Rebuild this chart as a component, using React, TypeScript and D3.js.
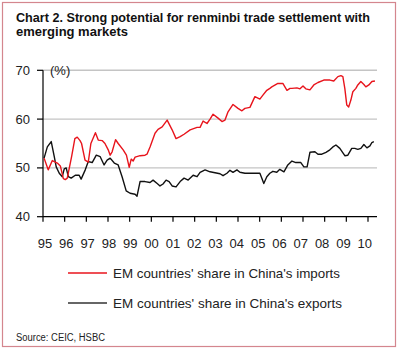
import * as d3 from "d3";

// EM share series (decimal year, %)
const importsShare: [number, number][] = [
  [1995.05, 52.0], [1995.24, 49.6], [1995.43, 51.5], [1995.66, 51.0], [1995.8, 50.4],
  [1995.94, 47.8], [1996.03, 47.6], [1996.12, 47.9], [1996.32, 52.3], [1996.47, 56.0],
  [1996.58, 56.3], [1996.71, 55.6], [1996.78, 55.0], [1996.94, 51.6], [1997.09, 51.2],
  [1997.21, 55.0], [1997.42, 57.2], [1997.55, 55.7], [1997.73, 55.6], [1997.86, 55.0],
  [1998.01, 53.7], [1998.1, 52.6], [1998.19, 53.3], [1998.35, 55.8], [1998.47, 55.0],
  [1998.7, 53.7], [1998.85, 52.6], [1998.98, 50.1], [1999.07, 51.8], [1999.16, 51.4],
  [1999.25, 52.2], [1999.48, 52.5], [1999.71, 52.6], [1999.8, 52.8], [1999.94, 54.3],
  [2000.17, 57.1], [2000.31, 57.9], [2000.5, 58.4], [2000.73, 59.8], [2000.96, 57.8],
  [2001.14, 56.0], [2001.33, 56.4], [2001.51, 56.9], [2001.79, 57.8], [2002.11, 58.3],
  [2002.25, 58.3], [2002.39, 59.6], [2002.57, 59.1], [2002.71, 60.0], [2002.85, 61.0],
  [2003.08, 60.2], [2003.26, 59.5], [2003.4, 59.8], [2003.54, 61.5], [2003.77, 63.0],
  [2004.0, 62.2], [2004.18, 61.7], [2004.32, 62.2], [2004.55, 62.4], [2004.78, 64.6],
  [2005.01, 64.1], [2005.15, 64.9], [2005.33, 65.9], [2005.47, 66.3], [2005.56, 66.6],
  [2005.84, 67.3], [2006.07, 67.3], [2006.26, 65.9], [2006.4, 66.3], [2006.49, 66.3],
  [2006.72, 66.4], [2006.86, 66.2], [2007.0, 66.8], [2007.13, 66.2], [2007.32, 66.0],
  [2007.5, 67.0], [2007.69, 67.5], [2007.96, 68.0], [2008.24, 68.0], [2008.42, 67.8],
  [2008.61, 68.7], [2008.75, 68.9], [2008.84, 68.7], [2008.93, 66.3], [2009.02, 62.9],
  [2009.11, 62.5], [2009.21, 63.9], [2009.3, 65.6], [2009.44, 66.3], [2009.53, 67.0],
  [2009.67, 67.7], [2009.81, 67.1], [2009.9, 66.6], [2010.04, 67.0], [2010.18, 67.7],
  [2010.32, 67.8],
];

const exportsShare: [number, number][] = [
  [1995.05, 52.0], [1995.2, 54.3], [1995.38, 55.4], [1995.52, 52.3], [1995.61, 50.2],
  [1995.75, 48.9], [1995.89, 48.2], [1995.98, 49.8], [1996.07, 50.0], [1996.17, 48.2],
  [1996.3, 47.9], [1996.49, 48.5], [1996.67, 48.5], [1996.76, 47.7], [1996.95, 49.6],
  [1997.09, 51.3], [1997.27, 51.1], [1997.46, 52.6], [1997.64, 52.3], [1997.82, 50.6],
  [1997.96, 51.6], [1998.1, 52.0], [1998.29, 51.0], [1998.47, 50.6], [1998.65, 48.2],
  [1998.84, 45.3], [1999.02, 44.8], [1999.25, 44.6], [1999.34, 44.2], [1999.48, 47.2],
  [1999.71, 47.2], [1999.94, 47.0], [2000.08, 47.5], [2000.27, 46.8], [2000.4, 46.3],
  [2000.54, 46.7], [2000.68, 47.5], [2000.82, 47.2], [2000.96, 46.3], [2001.14, 46.1],
  [2001.33, 47.2], [2001.51, 47.9], [2001.7, 47.5], [2001.93, 48.5], [2002.11, 48.2],
  [2002.25, 49.1], [2002.48, 49.6], [2002.71, 49.2], [2002.94, 49.0], [2003.17, 48.8],
  [2003.31, 48.4], [2003.49, 48.9], [2003.63, 49.5], [2003.77, 49.1], [2003.95, 49.6],
  [2004.09, 49.1], [2004.32, 48.9], [2004.55, 48.9], [2004.82, 48.9], [2005.01, 48.9],
  [2005.1, 47.9], [2005.19, 46.8], [2005.33, 48.2], [2005.47, 48.9], [2005.61, 49.3],
  [2005.79, 49.1], [2005.93, 49.7], [2006.12, 49.2], [2006.3, 50.6], [2006.49, 51.4],
  [2006.67, 51.1], [2006.9, 51.1], [2007.04, 50.2], [2007.19, 50.2], [2007.32, 53.2],
  [2007.55, 53.3], [2007.69, 52.8], [2007.87, 52.8], [2008.06, 53.2], [2008.24, 53.7],
  [2008.38, 54.3], [2008.52, 54.7], [2008.7, 54.0], [2008.93, 52.5], [2009.07, 52.6],
  [2009.25, 54.0], [2009.39, 54.0], [2009.53, 53.8], [2009.67, 54.0], [2009.81, 54.8],
  [2009.95, 54.1], [2010.09, 54.5], [2010.18, 55.2], [2010.27, 55.4],
];

const yearTicks = d3.range(1995, 2011);
const yearLabels = ["95", "96", "97", "98", "99", "00", "01", "02", "03", "04", "05", "06", "07", "08", "09", "10"];
const valueTicks = [40, 50, 60, 70];
const gridTicks = [50, 60, 70];
const seriesNames = ["EM countries' share in China's imports", "EM countries' share in China's exports"];
const titleLines = ["Chart 2. Strong potential for renminbi trade settlement with", "emerging markets"];

const FONT = "'Liberation Sans', Arial, sans-serif";
const RED = "#e8141c";
const BLACK = "#111";

export default function App() {
  const width = 400;
  const height = 350;
  const plot = { left: 43, right: 377, top: 70.3, bottom: 216.7 };

  const x = d3.scaleLinear().domain([1995, 2010]).range([plot.left, 368]);
  const y = d3.scaleLinear().domain([40, 70]).range([plot.bottom, plot.top]);

  const line = d3
    .line<[number, number]>()
    .x((d) => x(d[0]))
    .y((d) => y(d[1]))
    .curve(d3.curveLinear);

  return (
    <svg
      width={width}
      height={height}
      style={{ position: "absolute", left: 0, top: 0, background: "#fff" }}
      fontFamily={FONT}
    >
      <rect x={2.5} y={2.5} width={393} height={344} fill="#fff" stroke="#d4868e" strokeWidth={1.2} />

      {/* title */}
      <text x={16} y={21.5} fontSize={13} fontWeight="bold" fill="#111" textLength={354} lengthAdjust="spacingAndGlyphs">
        {titleLines[0]}
      </text>
      <text x={16} y={35.5} fontSize={13} fontWeight="bold" fill="#111" textLength={112} lengthAdjust="spacingAndGlyphs">
        {titleLines[1]}
      </text>

      {/* gridlines */}
      {gridTicks.map((t) => (
        <line key={t} x1={plot.left} x2={plot.right} y1={y(t)} y2={y(t)} stroke="#c4c4c4" strokeWidth={1.4} />
      ))}

      {/* y axis */}
      <line x1={plot.left} x2={plot.left} y1={plot.top} y2={plot.bottom} stroke="#000" strokeWidth={1.2} />
      {valueTicks.map((t) => (
        <g key={t}>
          <line x1={plot.left - 6} x2={plot.left} y1={y(t)} y2={y(t)} stroke="#000" strokeWidth={1.2} />
          <text x={30} y={y(t) + 4.5} fontSize={13} textAnchor="end" fill="#222">
            {t}
          </text>
        </g>
      ))}
      <text x={50} y={y(70) + 4.5} fontSize={13} fill="#222">
        (%)
      </text>

      {/* x axis */}
      <line x1={plot.left} x2={plot.right} y1={plot.bottom} y2={plot.bottom} stroke="#000" strokeWidth={1.2} />
      {yearTicks.map((yr, i) => (
        <g key={yr}>
          <line x1={x(yr)} x2={x(yr)} y1={plot.bottom} y2={plot.bottom + 5} stroke="#000" strokeWidth={1.2} />
          <text x={x(yr) + 2 - i * 0.35} y={248} fontSize={13} textAnchor="middle" fill="#222">
            {yearLabels[i]}
          </text>
        </g>
      ))}

      {/* series */}
      <path d={line(exportsShare) ?? ""} fill="none" stroke={BLACK} strokeWidth={1.4} strokeLinejoin="round" />
      <path d={line(importsShare) ?? ""} fill="none" stroke={RED} strokeWidth={1.4} strokeLinejoin="round" />

      {/* legend */}
      <line x1={68} x2={107} y1={273} y2={273} stroke={RED} strokeWidth={1.4} />
      <text x={113} y={278} fontSize={13} fill="#222" textLength={227} lengthAdjust="spacingAndGlyphs">
        {seriesNames[0]}
      </text>
      <line x1={68} x2={107} y1={303} y2={303} stroke="#333" strokeWidth={1.4} />
      <text x={113} y={308} fontSize={13} fill="#222" textLength={229} lengthAdjust="spacingAndGlyphs">
        {seriesNames[1]}
      </text>

      {/* source */}
      <text x={16} y={340.5} fontSize={10} fill="#222" textLength={89} lengthAdjust="spacingAndGlyphs">
        Source: CEIC, HSBC
      </text>
    </svg>
  );
}
